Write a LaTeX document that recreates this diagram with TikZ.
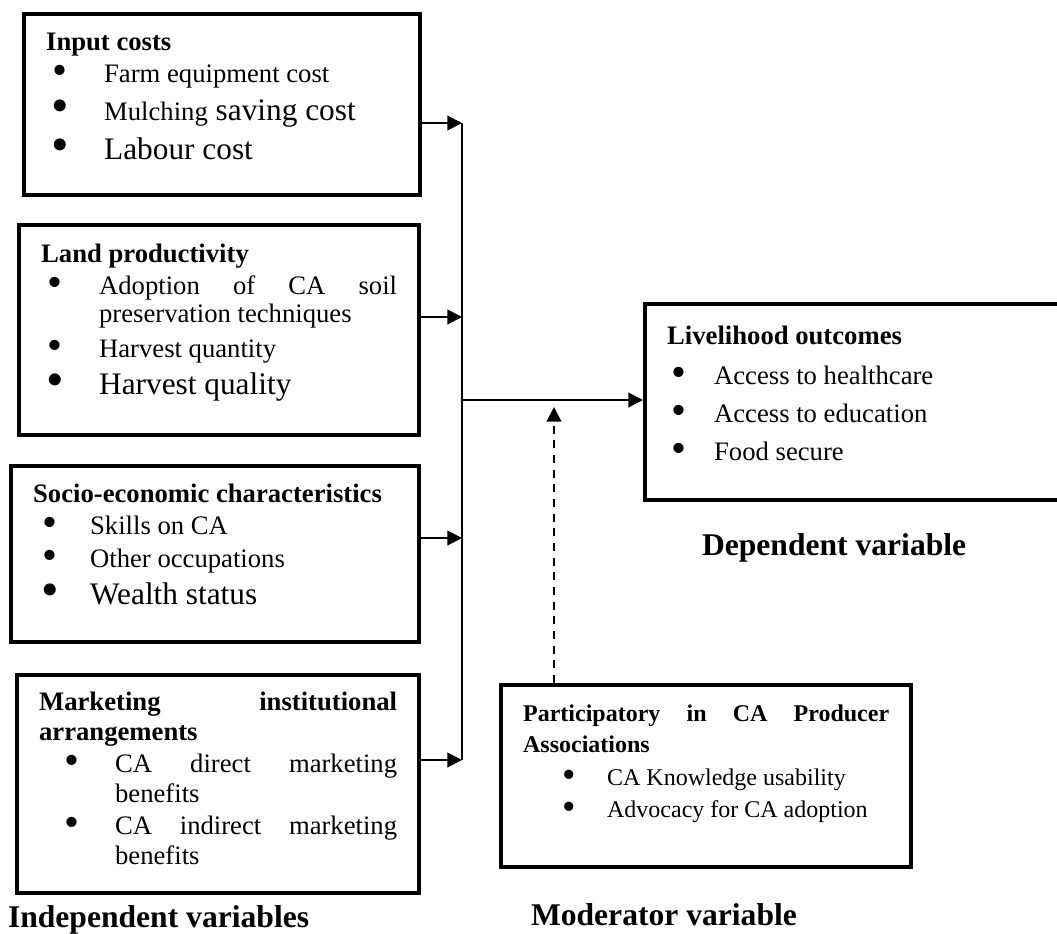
\documentclass[tikz,border=0pt]{standalone}
\usepackage{fontspec}
\setmainfont{Liberation Serif}
\usetikzlibrary{arrows.meta}

% heading line: size, skip, first baseline, text
\newcommand{\hdl}[4]{{\fontsize{#1}{#2}\selectfont\bfseries\noindent\rule{0pt}{#3}#4\par}}
% bigger bullet
\newcommand{\bigbul}{\makebox[0pt]{\raisebox{-0.09em}{\scalebox{1.6}{\textbullet}}}}
% bullet line: size, skip, bullet pos, text indent, text
\newcommand{\itm}[5]{{\fontsize{#1}{#2}\selectfont\noindent\hangindent=#4\hangafter=1\hbox to #4{\hspace*{#3}\bigbul\hfil}#5\par}}
% box content: height, width, lines
\newcommand{\boxtxt}[3]{\parbox[t][#1][t]{#2}{\lineskiplimit=-100pt\lineskip=0pt #3}}

\begin{document}
\begin{tikzpicture}[
      > = {Triangle[length=11pt, width=11pt]}, % arrow head style
      line width = 1.5pt, % connector style
      x = 0.75pt, y = -0.75pt, % pixel grid of the page
    ]

    \tikzstyle{varbox}=[
      draw = black,
      rectangle,
      line width = 3.2pt,
      inner xsep = 16.5pt,
      inner ysep = 0pt,
      anchor = north west
    ]
    \tikzstyle{label}=[
      font = \fontsize{23.7pt}{28pt}\selectfont\bfseries,
      inner sep = 0pt,
      anchor = base west
    ]

    \clip (0, 0) rectangle (1057, 933);

    % independent variables
    \node[varbox] (cost) at (22, 12) {\boxtxt{135.75pt}{264pt}{%
      \hdl{20pt}{24pt}{27pt}{Input costs}
      \itm{20pt}{24pt}{10.5pt}{43.5pt}{Farm equipment cost}
      \itm{23.5pt}{28.5pt}{10.5pt}{43.5pt}{{\fontsize{20pt}{24pt}\selectfont Mulching} saving cost}
      \itm{23.5pt}{29.25pt}{10.5pt}{43.5pt}{Labour cost}}};
    \node[varbox] (land) at (17, 223) {\boxtxt{157.5pt}{267pt}{%
      \hdl{20pt}{24pt}{27.75pt}{Land productivity}
      \vspace{3pt}
      \itm{20pt}{21pt}{10.5pt}{43.5pt}{Adoption of CA soil\linebreak preservation techniques}
      \itm{20pt}{26.25pt}{10.5pt}{43.5pt}{Harvest quantity}
      \itm{23.5pt}{27.75pt}{10.5pt}{43.5pt}{Harvest quality}}};
    \node[varbox] (socio) at (9, 464) {\boxtxt{132pt}{273pt}{%
      \hdl{20pt}{24pt}{27pt}{Socio-economic characteristics}
      \itm{20pt}{24pt}{12.75pt}{42.75pt}{Skills on CA}
      \itm{20pt}{24.75pt}{12.75pt}{42.75pt}{Other occupations}
      \itm{23.5pt}{27.75pt}{12.75pt}{42.75pt}{Wealth status}}};
    \node[varbox] (market) at (15, 673) {\boxtxt{163.5pt}{268.5pt}{%
      \hdl{20pt}{22.5pt}{26.25pt}{Marketing institutional\linebreak arrangements}
      \vspace{1.5pt}
      \itm{20pt}{22.5pt}{24.75pt}{57pt}{CA direct marketing\linebreak benefits}
      \vspace{1.5pt}
      \itm{20pt}{22.5pt}{24.75pt}{57pt}{CA indirect marketing\linebreak benefits}}};

    % dependent variable
    \node[varbox] (outc) at (643, 302) {\boxtxt{147pt}{281.25pt}{%
      \hdl{20pt}{24pt}{30pt}{Livelihood outcomes}
      \itm{20pt}{30pt}{9pt}{35.25pt}{Access to healthcare}
      \itm{20pt}{28.5pt}{9pt}{35.25pt}{Access to education}
      \itm{20pt}{28.5pt}{9pt}{35.25pt}{Food secure}}};

    % moderator variable
    \node[varbox] (part) at (499, 683) {\boxtxt{136.5pt}{274.5pt}{%
      \hdl{18pt}{23.25pt}{27pt}{Participatory in CA Producer\linebreak Associations}
      \itm{18pt}{24.75pt}{34.5pt}{63pt}{CA Knowledge usability}
      \itm{18pt}{24pt}{34.5pt}{63pt}{Advocacy for CA adoption}}};

    \node[label] (indep) at (7, 927) {Independent variables};
    \node[label] (dep) at (701, 555) {Dependent variable};
    \node[label] (moder) at (530, 925) {Moderator variable};

    % collecting line
    \coordinate (b1) at (462, 123);
    \coordinate (b2) at (462, 317);
    \coordinate (b3) at (462, 538);
    \coordinate (b4) at (462, 760);
    \coordinate (hub) at (462, 400);
    \coordinate (mod) at (554, 407);

    \path[->] (cost.east |- b1) edge (b1);
    \path[->] (land.east |- b2) edge (b2);
    \path[->] (socio.east |- b3) edge (b3);
    \path[->] (market.east |- b4) edge (b4);
    \draw (b1) -- (b4);
    \draw[->] (hub) -- (outc.west |- hub);
    \draw[->, dash pattern = on 6pt off 5pt] (part.north -| mod) -- (mod);

  \end{tikzpicture}
\end{document}
